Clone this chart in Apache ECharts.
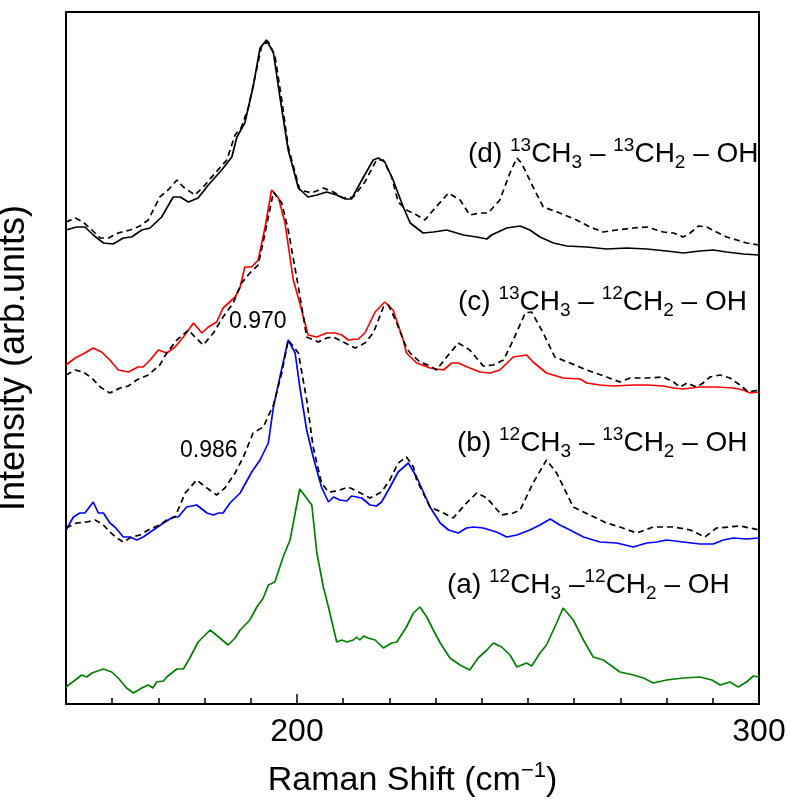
<!DOCTYPE html>
<html>
<head>
<meta charset="utf-8">
<script src="https://cdn.jsdelivr.net/npm/echarts@6/dist/echarts.min.js"></script>
<style>html,body{margin:0;padding:0;background:#fff}#c{width:790px;height:800px}</style>
</head>
<body>
<div id="c"></div>
<script>
// Raman shift (cm^-1) vs intensity (arb. units, vertical offsets included)
const dSolid = [[150.0,474],[152.3,477],[154.1,477],[155.9,469],[158.1,461],[160.2,460],[162.4,466],[164.2,467],[166.4,474],[168.2,476],[170.7,487],[173.2,507],[174.7,507],[176.5,502],[178.6,506],[180.8,519],[183.7,534],[185.9,547],[187.0,567],[188.7,581],[190.5,617],[192.0,656],[193.4,664],[194.9,651],[196.3,607],[198.1,554],[200.3,516],[202.4,507],[204.3,509],[206.4,512],[208.6,509],[210.4,505],[211.8,505],[214.4,527],[216.5,544],[217.6,546],[219.0,542],[220.8,524],[223.0,497],[224.5,481],[227.3,471],[229.5,472],[232.4,474],[236.0,469],[238.9,467],[241.1,465],[242.1,469],[245.4,476],[248.3,478],[250.4,474],[252.6,467],[255.5,461],[258.4,458],[262.7,457],[267.0,455],[271.4,456],[275.7,455],[280.0,453],[283.6,451],[287.2,453],[290.1,454],[293.0,452],[296.6,450],[300,449]];
const dDash = [[150.0,482],[152.0,486],[153.7,482],[155.6,474],[157.4,466],[159.2,466],[161.3,471],[163.9,474],[166.0,478],[167.8,484],[170.3,507],[172.1,514],[174.0,524],[175.4,517],[177.9,509],[179.7,517],[182.3,531],[184.8,544],[186.6,569],[188.0,577],[189.5,597],[190.9,627],[192.4,659],[193.8,662],[195.2,649],[196.7,604],[198.1,557],[200.6,514],[203.2,511],[205.7,516],[207.9,512],[210.0,506],[212.2,507],[214.7,522],[217.2,544],[218.7,544],[220.5,527],[221.9,502],[223.7,494],[225.9,489],[227.7,484],[229.5,494],[232.8,511],[235.3,504],[237.4,489],[239.6,491],[241.4,491],[243.9,504],[246.1,531],[247.6,546],[248.6,541],[251.1,517],[253.3,497],[256.9,491],[260.5,484],[263.4,477],[266.3,472],[269.2,474],[272.8,476],[275.7,477],[279.3,472],[281.5,471],[283.6,467],[285.1,471],[286.9,478],[288.7,477],[290.8,472],[293.0,467],[295.2,464],[297.3,461],[300,459]];
const cSolid = [[150.0,339],[152.0,346],[154.1,351],[155.9,356],[157.7,352],[159.5,344],[161.3,334],[163.5,332],[165.6,337],[166.7,337],[168.2,344],[170.0,354],[171.8,351],[173.6,357],[175.4,367],[177.6,381],[179.4,371],[180.8,377],[182.6,382],[184.0,396],[186.6,407],[187.7,417],[188.7,437],[190.2,437],[191.6,444],[193.1,477],[194.5,514],[196.0,506],[197.4,481],[199.2,424],[200.6,401],[202.4,369],[204.3,367],[206.4,371],[208.2,371],[209.7,369],[211.1,364],[213.3,365],[214.7,371],[216.9,392],[219.0,402],[220.8,394],[223.0,364],[223.7,351],[225.9,341],[228.8,336],[231.7,334],[233.5,341],[234.9,341],[237.4,336],[239.6,332],[241.8,331],[243.9,334],[246.8,347],[249.7,349],[251.1,342],[254.0,331],[257.6,326],[261.3,325],[262.7,321],[265.6,319],[268.5,318],[272.8,319],[275.7,319],[279.3,318],[281.5,316],[283.6,315],[287.2,317],[290.8,317],[294.4,316],[296.6,314],[298.1,311],[300,312]];
const cDash = [[150.0,329],[152.0,334],[153.7,332],[155.6,326],[157.4,317],[159.5,311],[161.7,316],[163.5,318],[165.3,324],[167.8,329],[170.3,339],[171.8,351],[174.0,364],[176.5,374],[177.9,367],[179.7,359],[181.9,371],[184.0,387],[186.2,401],[188.0,421],[189.8,431],[191.6,439],[193.1,471],[194.9,512],[196.7,501],[198.1,474],[200.3,417],[202.1,367],[204.6,362],[206.4,366],[207.9,367],[210.0,362],[212.6,356],[214.7,361],[216.5,371],[218.7,397],[219.8,399],[221.6,381],[223.7,356],[224.5,351],[226.6,342],[228.8,338],[230.2,334],[232.4,347],[234.9,361],[237.4,354],[239.6,342],[240.3,338],[242.5,339],[244.7,344],[246.8,364],[249.4,391],[250.8,392],[253.3,371],[255.8,347],[259.1,341],[262.7,334],[267.0,327],[269.9,322],[272.1,326],[275.7,326],[279.3,327],[281.5,322],[282.9,317],[284.4,321],[286.5,317],[287.9,321],[289.4,327],[291.6,329],[293.7,326],[295.9,319],[297.7,312],[300,314]];
const bSolid = [[150.0,174],[151.6,187],[153.0,191],[154.1,191],[155.9,202],[157.0,191],[158.1,191],[159.5,181],[160.6,177],[162.4,167],[163.9,167],[165.3,164],[166.7,167],[168.9,174],[171.1,181],[173.2,187],[174.3,187],[176.1,197],[178.3,199],[180.5,191],[181.9,189],[183.0,191],[184.0,191],[185.5,201],[187.7,211],[190.2,232],[192.0,244],[193.8,261],[194.9,297],[196.3,327],[198.1,364],[199.6,351],[200.6,317],[202.1,274],[203.5,247],[205.3,217],[206.8,202],[207.9,207],[209.3,204],[210.8,203],[211.8,208],[214.0,206],[215.8,199],[217.2,198],[218.3,202],[219.8,214],[221.9,232],[224.1,241],[225.9,227],[228.8,197],[231.0,181],[232.8,174],[234.9,171],[236.7,176],[238.2,177],[240.3,176],[243.2,172],[245.4,167],[247.6,169],[250.4,174],[252.6,179],[254.8,185],[256.9,179],[259.1,174],[262.0,167],[265.6,162],[269.2,161],[272.8,157],[275.7,161],[277.9,162],[280.0,164],[283.6,162],[287.2,160],[290.1,160],[292.3,164],[294.4,166],[297.3,165],[300,166]];
const bDash = [[150.0,176],[152.3,181],[154.5,182],[156.3,184],[158.1,179],[159.5,172],[161.0,166],[162.4,162],[164.2,167],[166.0,169],[168.2,175],[170.3,179],[171.8,184],[173.6,187],[175.8,211],[178.3,224],[180.5,216],[182.6,209],[184.4,216],[186.6,231],[188.4,247],[190.5,271],[192.7,277],[194.9,299],[196.7,331],[198.1,364],[200.3,351],[202.1,304],[203.5,257],[205.3,221],[206.8,212],[208.6,213],[211.1,217],[213.3,212],[215.8,206],[218.3,212],[220.1,224],[221.9,241],[223.7,247],[225.2,237],[225.9,224],[228.8,197],[231.7,191],[233.8,186],[236.7,201],[238.9,211],[241.1,206],[244.3,189],[246.8,191],[248.3,194],[251.1,221],[254.0,244],[256.2,231],[259.8,197],[263.4,189],[267.0,181],[269.9,177],[273.5,171],[277.1,177],[281.5,177],[285.1,174],[288.3,167],[290.8,176],[293.4,177],[295.9,178],[298.1,176],[300,174]];
const aSolid = [[150.0,17],[152.0,24],[153.4,29],[154.5,27],[155.6,31],[158.1,35],[159.9,32],[161.3,26],[163.1,16],[164.6,11],[166.4,16],[167.8,19],[168.8,16],[169.6,22],[171.1,23],[171.8,27],[174.0,35],[175.4,35],[176.8,46],[178.6,62],[181.2,74],[183.3,66],[185.1,59],[186.6,66],[187.7,74],[189.8,84],[191.3,97],[192.7,106],[193.8,119],[195.2,122],[197.0,147],[198.5,164],[199.6,191],[200.6,215],[203.2,199],[204.3,151],[205.7,117],[206.8,97],[208.6,62],[209.7,64],[210.8,62],[212.2,64],[212.9,67],[213.6,64],[214.4,68],[215.4,66],[216.9,64],[218.7,56],[220.5,61],[221.6,62],[223.7,77],[225.2,91],[226.6,97],[228.1,87],[229.5,74],[231.0,61],[233.1,46],[235.3,39],[237.4,34],[239.2,46],[241.1,54],[242.5,61],[244.3,57],[246.1,49],[247.6,37],[249.7,41],[250.8,38],[252.6,51],[254.0,59],[256.2,81],[257.6,96],[259.8,84],[262.0,64],[264.1,47],[266.3,44],[267.8,39],[269.9,32],[272.8,29],[275.0,26],[277.1,21],[280.0,24],[283.6,26],[287.2,27],[289.8,24],[291.6,19],[293.7,22],[295.5,17],[297.3,22],[298.8,28],[300,27]];

const xTickLabels = [200, 300];
const majorTicks = [200];

const FONT = "'Liberation Sans', Arial, Helvetica, sans-serif";
const chart = echarts.init(document.getElementById('c'), null, {renderer: 'canvas'});

function line(data, color, dashed) {
  return {
    type: 'line', data: data, showSymbol: false, symbol: 'none', smooth: false,
    lineStyle: {color: color, width: 1.7, type: dashed ? [6, 4] : 'solid'},
    emphasis: {disabled: true}, animation: false, z: dashed ? 3 : 2
  };
}

const rich = {
  n: {fontSize: 28, fontFamily: FONT, color: '#000', lineHeight: 36, verticalAlign: 'middle'},
  sup: {fontSize: 19, fontFamily: FONT, color: '#000', lineHeight: 36, verticalAlign: 'top'},
  sub: {fontSize: 19, fontFamily: FONT, color: '#000', lineHeight: 36, verticalAlign: 'bottom'}
};
function label(x, y, txt) {
  return {type: 'text', left: x, top: y, z: 10, style: {text: txt, rich: rich, font: '28px ' + FONT}};
}

chart.setOption({
  backgroundColor: '#fff',
  animation: false,
  grid: {left: 66, right: 31, top: 12, bottom: 96, show: true, borderColor: '#000', borderWidth: 2,
         containLabel: false, outerBoundsMode: 'none'},
  xAxis: [{
    type: 'value', min: 150, max: 300, interval: 10,
    axisLine: {show: true, lineStyle: {color: '#000', width: 2}},
    axisTick: {show: true, inside: true, length: 6, lineStyle: {color: '#000', width: 1.5}},
    axisLabel: {show: true, margin: 12, color: '#000', fontSize: 32, fontFamily: FONT,
      formatter: v => xTickLabels.indexOf(v) >= 0 ? String(v) : '', showMinLabel: false, showMaxLabel: true, hideOverlap: false},
    splitLine: {show: false},
    name: 'Raman Shift (cm{sup|−1})', nameLocation: 'middle', nameGap: 56,
    nameTextStyle: {color: '#000', fontSize: 34, fontFamily: FONT,
      rich: {sup: {fontSize: 22, fontFamily: FONT, color: '#000', verticalAlign: 'top', lineHeight: 42}}}
  }, {
    type: 'value', min: 150, max: 300, position: 'bottom', gridIndex: 0,
    axisLine: {show: false},
    axisTick: {show: true, inside: true, length: 10, customValues: majorTicks, lineStyle: {color: '#000', width: 1.5}},
    axisLabel: {show: false}, splitLine: {show: false}
  }],
  yAxis: {
    type: 'value', min: 0, max: 692,
    axisLine: {show: false}, axisTick: {show: false}, axisLabel: {show: false}, splitLine: {show: false},
    name: 'Intensity (arb.units)', nameLocation: 'middle', nameGap: 34,
    nameTextStyle: {color: '#000', fontSize: 36, fontFamily: FONT}
  },
  series: [
    line(dSolid, '#000', false), line(dDash, '#000', true),
    line(cSolid, '#ff0000', false), line(cDash, '#000', true),
    line(bSolid, '#0000ff', false), line(bDash, '#000', true),
    line(aSolid, '#008000', false)
  ],
  graphic: [
    label(468, 136, '{n|(d) }{sup|13}{n|CH}{sub|3}{n| – }{sup|13}{n|CH}{sub|2}{n| – OH}'),
    label(458, 284, '{n|(c) }{sup|13}{n|CH}{sub|3}{n| – }{sup|12}{n|CH}{sub|2}{n| – OH}'),
    label(457, 425, '{n|(b) }{sup|12}{n|CH}{sub|3}{n| – }{sup|13}{n|CH}{sub|2}{n| – OH}'),
    label(447, 567, '{n|(a) }{sup|12}{n|CH}{sub|3}{n| –}{sup|12}{n|CH}{sub|2}{n| – OH}'),
    {type: 'text', left: 229, top: 310, z: 10, style: {text: '0.970', font: '23px ' + FONT, fill: '#000'}},
    {type: 'text', left: 180, top: 439, z: 10, style: {text: '0.986', font: '23px ' + FONT, fill: '#000'}}
  ]
});
</script>
</body>
</html>
